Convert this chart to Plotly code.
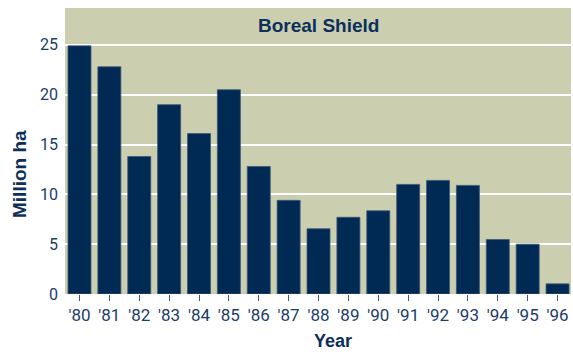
import plotly.graph_objects as go

# Area burned per year in the Boreal Shield ecozone
years = ["'80", "'81", "'82", "'83", "'84", "'85", "'86", "'87", "'88",
         "'89", "'90", "'91", "'92", "'93", "'94", "'95", "'96"]
area_mha = [24.9, 22.8, 13.8, 19.0, 16.1, 20.5, 12.8, 9.4, 6.55,
            7.7, 8.35, 11.0, 11.4, 10.9, 5.47, 5.0, 1.02]
y_ticks = [0, 5, 10, 15, 20, 25]

BG = "#cbcfb0"
BAR = "#002a54"
TEXT = "#1c3c69"
TITLE = "#0c2f5b"

fig = go.Figure(
    go.Bar(
        x=list(range(len(years))),
        y=area_mha,
        width=0.77,
        marker=dict(color=BAR, line=dict(color="#3e5878", width=0.8)),
        hoverinfo="skip",
    )
)

fig.update_layout(
    width=573,
    height=354,
    margin=dict(l=65, r=2, t=8, b=60),
    paper_bgcolor="white",
    plot_bgcolor=BG,
    showlegend=False,
    font=dict(family="Roboto, sans-serif", color=TEXT),
)

fig.update_xaxes(
    range=[-0.485, len(years) - 0.55],
    tickmode="array",
    tickvals=list(range(len(years))),
    ticktext=years,
    tickson="boundaries",
    ticks="outside",
    ticklen=6,
    tickwidth=1.2,
    tickcolor="#4a5a70",
    tickfont=dict(size=17, color=TEXT),
    showgrid=False,
    zeroline=False,
    showline=False,
)

fig.update_yaxes(
    range=[0, 28.7],
    tickmode="array",
    tickvals=y_ticks,
    ticks="",
    tickfont=dict(size=16, color=TEXT),
    ticklabelstandoff=6,
    showgrid=True,
    gridcolor="white",
    gridwidth=1.6,
    zeroline=False,
    showline=False,
)

TITLE_FONT = "Liberation Sans, Arial, sans-serif"

fig.add_annotation(
    text="<b>Boreal Shield</b>", xref="paper", yref="paper", x=0.5, y=(294 - 25) / 286,
    showarrow=False, xanchor="center", yanchor="middle",
    font=dict(family=TITLE_FONT, size=19, color=TITLE),
)
fig.add_annotation(
    text="<b>Year</b>", xref="paper", yref="paper", x=(332.5 - 65) / 506, y=-(341 - 294) / 286,
    showarrow=False, xanchor="center", yanchor="middle",
    font=dict(family=TITLE_FONT, size=18, color=TITLE),
)
fig.add_annotation(
    text="<b>Million ha</b>", xref="paper", yref="paper", x=-(65 - 19) / 506, y=(294 - 174) / 286,
    showarrow=False, xanchor="center", yanchor="middle", textangle=-90,
    font=dict(family=TITLE_FONT, size=19, color=TITLE),
)

fig.write_html("out.html")
